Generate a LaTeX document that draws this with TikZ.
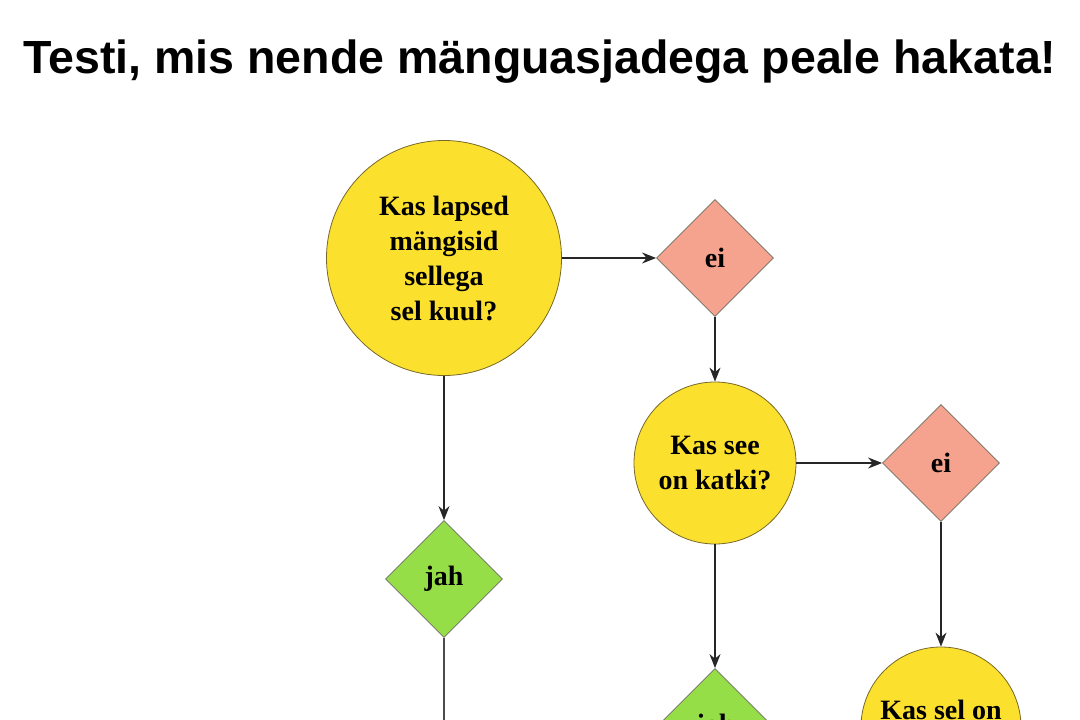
\documentclass[tikz,border=0pt]{standalone}
\usepackage{fontspec}
\setmainfont{Liberation Serif}
\newfontfamily\titlefont{Liberation Sans}
\usetikzlibrary{shapes, arrows.meta}
\definecolor{kollane}{RGB}{252,224,46}
\definecolor{kollaneserv}{RGB}{120,105,40}
\definecolor{punane}{RGB}{245,162,142}
\definecolor{roheline}{RGB}{150,222,72}
\definecolor{serv}{RGB}{110,110,100}
\tikzstyle{question} = [circle, text centered, align=center, draw=kollaneserv, line width=0.8pt, fill=kollane, inner sep=0pt, font=\fontsize{28}{35}\selectfont\bfseries]
\tikzstyle{nobox} = [diamond, minimum width=117pt, minimum height=117pt, inner sep=0pt, text centered, draw=serv, line width=0.8pt, fill=punane, font=\fontsize{28}{35}\selectfont\bfseries]
\tikzstyle{yesbox} = [diamond, minimum width=117pt, minimum height=117pt, inner sep=0pt, text centered, draw=serv, line width=0.8pt, fill=roheline, font=\fontsize{28}{35}\selectfont\bfseries]
\tikzstyle{arrow} = [line width=1.3pt, -{Stealth[length=14pt,width=11pt]}, draw=black!85]
\tikzstyle{link} = [line width=1.3pt, draw=black!70]

\begin{document}
\begin{tikzpicture}[node distance=2cm]
    \useasboundingbox (0,0) rectangle (1080pt,-720pt);
    \node (title) at (540pt,-73pt) [anchor=base, font=\titlefont\fontsize{46.5}{50}\selectfont\bfseries] {Testi, mis nende mänguasjadega peale hakata!};
    \node (played) at (444pt,-258pt) [question, minimum size=235pt] {Kas lapsed\\mängisid\\sellega\\sel kuul?};
    \node (notplayed) [nobox, right of=played, node distance=271pt] {ei};
    \node (playedyes) [yesbox, below of=played, node distance=321pt] {jah};
    \node (broken) [question, minimum size=162pt, below of=notplayed, node distance=205pt] {Kas see\\on katki?};
    \node (notbroken) [nobox, right of=broken, node distance=226pt] {ei};
    \node (brokenyes) [yesbox, below of=broken, node distance=264pt] {jah};
    \node (parts) [question, minimum size=160pt, below of=notbroken, node distance=264pt] {Kas sel on\\~};
    \coordinate (playedend) at (444pt,-720pt);

    \draw [arrow] (played) -- (notplayed);
    \draw [arrow] (played) -- (playedyes);
    \draw [link] (playedyes) -- (playedend);
    \draw [arrow] (notplayed) -- (broken);
    \draw [arrow] (broken) -- (notbroken);
    \draw [arrow] (broken) -- (brokenyes);
    \draw [arrow] (notbroken) -- (parts);

\end{tikzpicture}
\end{document}
